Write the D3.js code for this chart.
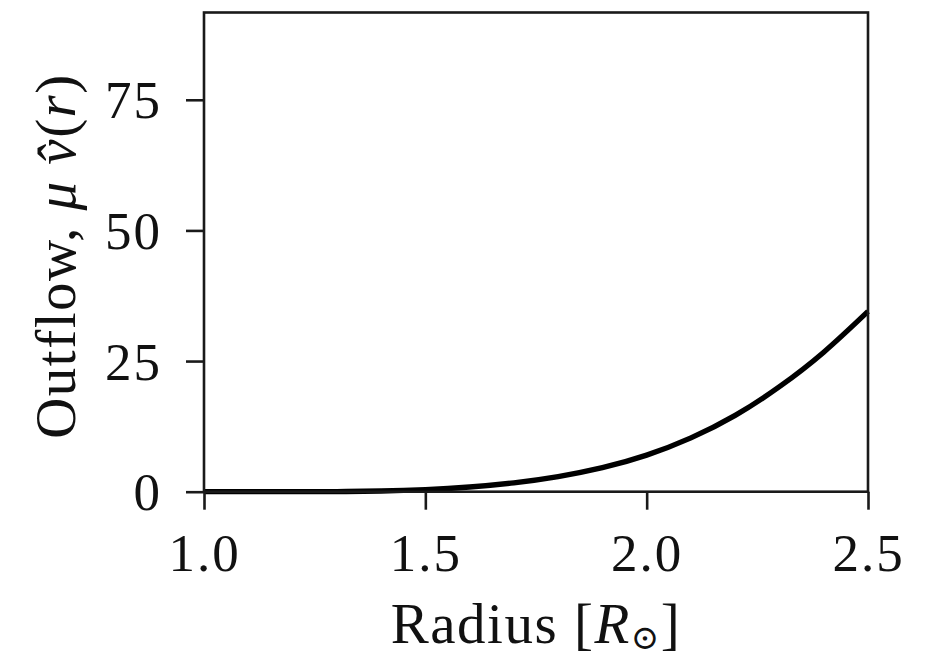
<!DOCTYPE html>
<html>
<head>
<meta charset="utf-8">
<script src="https://cdn.jsdelivr.net/npm/d3@7/dist/d3.min.js"></script>
<style>
  html, body { margin: 0; padding: 0; background: #fff; }
  svg { display: block; }
  text { font-family: "Liberation Serif", "DejaVu Serif", serif; fill: #111; }
</style>
</head>
<body>
<svg id="chart" width="925" height="661"></svg>
<script>
// Data
const radius  = [1.0, 1.1, 1.2, 1.3, 1.4, 1.5, 1.6, 1.7, 1.8, 1.9, 2.0, 2.1, 2.2, 2.3, 2.4, 2.5];
const outflow = [0.0, 0.0, 0.005, 0.03, 0.13, 0.4, 0.9, 1.7, 2.9, 4.6, 7.0, 10.3, 14.6, 20.1, 26.7, 34.5];
const xTicks = [1.0, 1.5, 2.0, 2.5];
const yTicks = [0, 25, 50, 75];
const xDomain = [1.0, 2.5];
const yDomain = [0, 91.7];

const W = 925, H = 661;
const margin = { left: 204, right: W - 868, top: 12.5, bottom: H - 491.7 };
const svg = d3.select("#chart");

const x = d3.scaleLinear().domain(xDomain).range([margin.left, W - margin.right]);
const y = d3.scaleLinear().domain(yDomain).range([H - margin.bottom, margin.top]);

const ink = "#1a1a1a";
const fs = 53;

// Curve
const data = radius.map((r, i) => ({ r, v: outflow[i] }));
svg.append("path")
  .datum(data)
  .attr("fill", "none")
  .attr("stroke", "#000")
  .attr("stroke-width", 5.3)
  .attr("stroke-linejoin", "round")
  .attr("d", d3.line().x(d => x(d.r)).y(d => y(d.v)).curve(d3.curveNatural));

// Frame
svg.append("rect")
  .attr("x", x(xDomain[0])).attr("y", y(yDomain[1]))
  .attr("width", x(xDomain[1]) - x(xDomain[0]))
  .attr("height", y(yDomain[0]) - y(yDomain[1]))
  .attr("fill", "none").attr("stroke", ink).attr("stroke-width", 2.6);

// Axes
const xAxis = svg.append("g")
  .attr("transform", `translate(0,${y(yDomain[0])})`)
  .call(d3.axisBottom(x).tickValues(xTicks).tickFormat(d3.format(".1f")).tickSize(18).tickPadding(24));
const yAxis = svg.append("g")
  .attr("transform", `translate(${x(xDomain[0])},0)`)
  .call(d3.axisLeft(y).tickValues(yTicks).tickFormat(d3.format("d")).tickSize(18).tickPadding(24));

[xAxis, yAxis].forEach(g => {
  g.select(".domain").remove();
  g.selectAll(".tick line").attr("stroke", ink).attr("stroke-width", 2.6);
  g.selectAll(".tick text").attr("font-size", fs).attr("fill", "#111")
    .style("font-family", '"Liberation Serif", "DejaVu Serif", serif')
    .style("letter-spacing", "2px");
});
xAxis.selectAll(".tick text").attr("dy", "0.71em");
yAxis.selectAll(".tick text").attr("dy", "0.34em");

// X label
const xl = svg.append("text")
  .attr("x", (x(xDomain[0]) + x(xDomain[1])) / 2)
  .attr("y", 643)
  .attr("text-anchor", "middle")
  .attr("font-size", 57)
  .style("letter-spacing", "1.5px");
xl.append("tspan").text("Radius [");
xl.append("tspan").attr("font-style", "italic").text("R");
xl.append("tspan").attr("font-size", 34).attr("dy", 6).text("⊙");
xl.append("tspan").attr("dy", -6).text("]");

// Y label
const yl = svg.append("text")
  .attr("transform", `translate(75,256) rotate(-90)`)
  .attr("text-anchor", "middle")
  .attr("font-size", 57)
  .style("letter-spacing", "1.5px");
yl.append("tspan").text("Outflow, ");
yl.append("tspan").attr("font-style", "italic").text("μ v̂");
yl.append("tspan").text("(");
yl.append("tspan").attr("font-style", "italic").text("r");
yl.append("tspan").text(")");
</script>
</body>
</html>
